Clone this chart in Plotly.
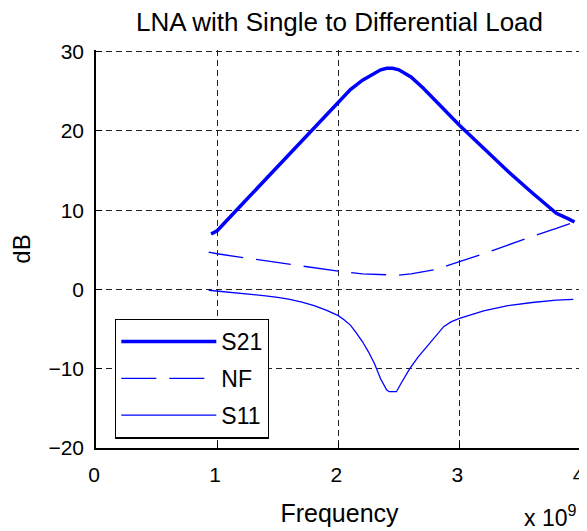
import plotly.graph_objects as go

# Frequency in units of 1e9 Hz
s21_freq = [0.95, 1.0, 1.2, 1.4, 1.6, 1.8, 2.0, 2.1, 2.2, 2.3, 2.35, 2.4, 2.45, 2.5, 2.55, 2.6, 2.7, 2.8, 3.0, 3.2, 3.4, 3.6, 3.8, 3.9, 3.95]
s21_db = [7.0, 7.4, 10.65, 13.9, 17.2, 20.4, 23.7, 25.2, 26.4, 27.3, 27.7, 27.9, 27.9, 27.7, 27.3, 26.8, 25.4, 23.8, 20.7, 17.8, 14.9, 12.2, 9.6, 8.9, 8.5]

nf_freq = [0.93, 1.0, 1.2, 1.4, 1.6, 1.8, 2.0, 2.2, 2.4, 2.5, 2.6, 2.7, 2.8, 2.9, 3.0, 3.2, 3.4, 3.6, 3.8, 3.93]
nf_db = [4.7, 4.5, 4.05, 3.6, 3.15, 2.7, 2.3, 1.95, 1.8, 1.8, 1.95, 2.2, 2.5, 3.0, 3.5, 4.5, 5.6, 6.7, 7.7, 8.4]

s11_freq = [0.93, 1.0, 1.2, 1.4, 1.5, 1.6, 1.7, 1.8, 1.9, 2.0, 2.05, 2.1, 2.15, 2.2, 2.25, 2.3, 2.35, 2.4, 2.42, 2.45, 2.48, 2.52, 2.59, 2.66, 2.73, 2.8, 2.87, 2.93, 3.0, 3.2, 3.4, 3.6, 3.8, 3.94]
s11_db = [-0.1, -0.2, -0.45, -0.8, -1.0, -1.25, -1.6, -2.05, -2.6, -3.3, -3.85, -4.5, -5.5, -6.6, -7.9, -9.4, -11.3, -12.7, -12.9, -12.9, -12.9, -11.8, -10.0, -8.5, -7.2, -5.9, -4.7, -4.1, -3.66, -2.7, -2.05, -1.65, -1.35, -1.25]

x_ticks = [0, 1, 2, 3, 4]
x_ticktext = ["0", "1", "2", "3", "4"]
y_ticks = [-20, -10, 0, 10, 20, 30]

FONT = "Liberation Sans, Arial, sans-serif"
BLUE = "#0000FF"

# The page body adds an 8px offset; size the figure to fill the rest of the window.
W, H = 579, 523

fig = go.Figure()
fig.add_trace(go.Scatter(x=s21_freq, y=s21_db, mode="lines", name="S21", legendgroup="a",
                         line=dict(color=BLUE, width=3.5)))
fig.add_trace(go.Scatter(x=nf_freq, y=nf_db, mode="lines", name="NF", legendgroup="b",
                         line=dict(color=BLUE, width=1.3, dash="35px,13px")))
fig.add_trace(go.Scatter(x=s11_freq, y=s11_db, mode="lines", name="S11", legendgroup="c",
                         line=dict(color=BLUE, width=1.3)))

axis_common = dict(
    showline=True, linecolor="black", linewidth=1.5, mirror=False,
    ticks="inside", ticklen=6, tickcolor="black", tickwidth=1,
    showgrid=True, gridcolor="#222222", gridwidth=1, griddash="6px,4px",
    zeroline=False, automargin=False, ticklabeloverflow="allow",
    tickfont=dict(family=FONT, size=21, color="black"),
)

fig.update_layout(
    width=W, height=H,
    margin=dict(l=88, r=4, t=42, b=83, autoexpand=False),
    paper_bgcolor="white", plot_bgcolor="white",
    font=dict(family=FONT, color="black"),
    title=dict(text="LNA with Single to Differential Load", x=0.5, xref="paper", xanchor="center",
               y=1 - 14 / H, yref="container", yanchor="middle",
               font=dict(family=FONT, size=26, color="black")),
    xaxis=dict(range=[0, 4.02], tickvals=x_ticks, ticktext=x_ticktext,
               title=dict(text="Frequency", font=dict(family=FONT, size=25, color="black"), standoff=20),
               ticklabelstandoff=7, ticklabelshift=-2, **axis_common),
    yaxis=dict(range=[-20, 30.2], tickvals=y_ticks,
               title=dict(text="dB", font=dict(family=FONT, size=24, color="black"), standoff=24),
               ticklabelstandoff=6, **axis_common),
    legend=dict(x=0.039, y=0.325, xanchor="left", yanchor="top",
                bgcolor="white", bordercolor="black", borderwidth=1.3,
                font=dict(family=FONT, size=23, color="black"),
                itemwidth=95, tracegroupgap=4),
    showlegend=True,
)

fig.add_annotation(text="x 10<sup>9</sup>", xref="paper", yref="paper",
                   x=0.99, y=-0.17, xanchor="right", yanchor="middle", showarrow=False,
                   font=dict(family=FONT, size=23, color="black"))

fig.write_html("out.html")
